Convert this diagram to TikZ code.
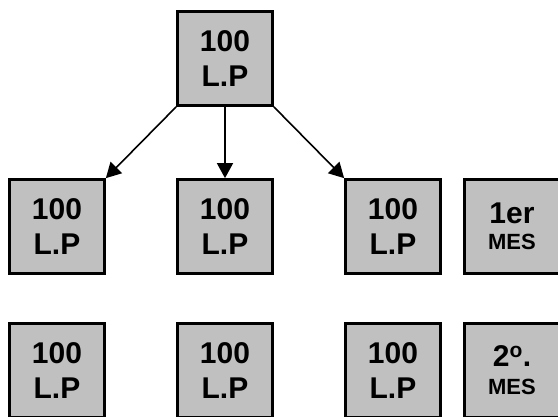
\documentclass[tikz,border=0pt]{standalone}
\usepackage{fontspec}
\setmainfont{Liberation Sans}
\usetikzlibrary{arrows.meta}
\definecolor{cajagris}{RGB}{192,192,192}

\begin{document}
\begin{tikzpicture}[x=1pt,y=1pt,
  caja/.style={draw=black, line width=2.7pt, fill=cajagris, minimum width=95pt,
    minimum height=94pt, inner sep=0pt, align=center,
    font=\fontsize{30}{35}\selectfont\bfseries},
  flecha/.style={-{Triangle[length=15pt,width=16pt]}, line width=1.6pt}]
  \useasboundingbox (0,0) rectangle (558,417);

  % capital inicial
  \node[caja] (inicio) at (225, 358.5) {100\\L.P};

  % dos filas de tres cajas
  \foreach \x/\n in {57/a,225/b,393/c}
  {
  \node[caja] (mesuno\n) at (\x, 190.5) {100\\L.P};
  \node[caja] (mesdos\n) at (\x, 46.5) {100\\L.P};
  }
  \node[caja] (etiquno) at (512, 190.5) {1er\\[-9pt]{\fontsize{22}{26}\selectfont MES}};
  \node[caja] (etiqdos) at (512, 46.5) {2\textsuperscript{o}.\\[-7pt]{\fontsize{22}{26}\selectfont MES}};

  \draw[flecha] (inicio.south west) -- (mesunoa.north east);
  \draw[flecha] (inicio.south) -- (mesunob.north);
  \draw[flecha] (inicio.south east) -- (mesunoc.north west);

\end{tikzpicture}
\end{document}
